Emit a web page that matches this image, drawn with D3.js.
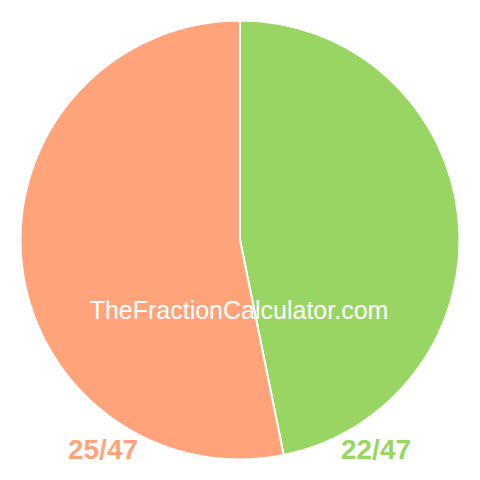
<!DOCTYPE html>
<html>
<head>
<meta charset="utf-8">
<script src="https://cdn.jsdelivr.net/npm/d3@7"></script>
<style>
	body { margin: 0; background: #fff; }
</style>
</head>
<body>
<div id="chart"></div>
<script>
var labels = ['22/47', '25/47'];
var values = [22, 25];
var colors = ['#99d562', '#ffa47a'];

var width = 480, height = 480, radius = 219.5;

var svg = d3.select('#chart').append('svg')
	.attr('width', width)
	.attr('height', height);

var pie = d3.pie().sort(null).value(function(d) { return d; });
var arc = d3.arc().innerRadius(0).outerRadius(radius);

var g = svg.append('g').attr('transform', 'translate(240,240)');

g.selectAll('path')
	.data(pie(values))
	.enter().append('path')
	.attr('d', arc)
	.attr('fill', function(d, i) { return colors[i]; })
	.attr('stroke', '#fff')
	.attr('stroke-width', 2);

svg.append('text')
	.attr('x', 239)
	.attr('y', 319)
	.attr('text-anchor', 'middle')
	.attr('font-family', 'Liberation Sans, Arial, sans-serif')
	.attr('font-size', 25)
	.attr('fill', '#fff')
	.text('TheFractionCalculator.com');

// fraction labels under the pie
var labelX = [376, 103];
svg.selectAll('.lbl')
	.data(labels)
	.enter().append('text')
	.attr('class', 'lbl')
	.attr('x', function(d, i) { return labelX[i]; })
	.attr('y', 459)
	.attr('text-anchor', 'middle')
	.attr('font-family', 'Liberation Sans, Arial, sans-serif')
	.attr('font-weight', 'bold')
	.attr('font-size', 28)
	.attr('fill', function(d, i) { return colors[i]; })
	.text(function(d) { return d; });
</script>
</body>
</html>
